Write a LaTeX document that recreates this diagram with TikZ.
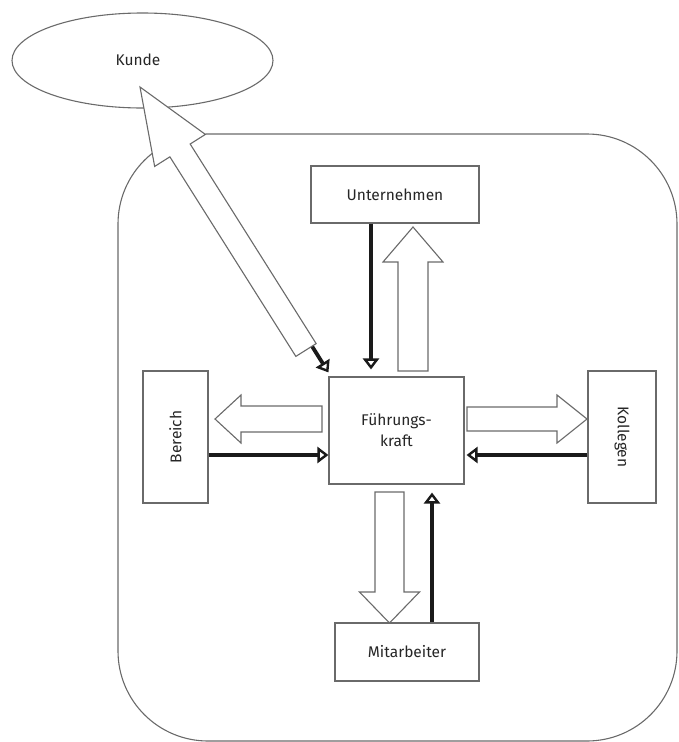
\documentclass[tikz,border=0pt]{standalone}
\usepackage{fontspec}
\setmainfont{Fira Sans}
\usetikzlibrary{calc,arrows.meta,shapes.geometric}
\definecolor{edge}{HTML}{6A6A6A}
\definecolor{ink}{HTML}{1A1A1A}
\definecolor{txt}{HTML}{262626}
\begin{document}
\begin{tikzpicture}[x=1pt,y=-1pt,
  every node/.style={text=txt, font=\fontsize{15.5}{21}\selectfont},
  box/.style={draw=edge, line width=1.1pt, fill=white, inner sep=0pt},
  thk/.style={draw=ink, line width=3.8pt, -{Triangle[open,length=11pt,width=16pt,line width=2.4pt]}},
  blk/.style={draw=edge, fill=white, line width=1.1pt, line join=miter},
  blockarrow/.style n args={3}{to path={
     ($(\tikztostart)!#1!90:(\tikztotarget)$)
  -- ($(\tikztotarget)!#3!(\tikztostart)!#1!90:(\tikztotarget)$)
  -- ($(\tikztotarget)!#3!(\tikztostart)!#2!90:(\tikztotarget)$)
  -- (\tikztotarget)
  -- ($(\tikztotarget)!#3!(\tikztostart)!#2!-90:(\tikztotarget)$)
  -- ($(\tikztotarget)!#3!(\tikztostart)!#1!-90:(\tikztotarget)$)
  -- ($(\tikztostart)!#1!-90:(\tikztotarget)$)
  -- cycle}}
]
\useasboundingbox (0,0) rectangle (678,742);

% frame
\node[draw=edge, line width=1.1pt, rounded corners=90pt, inner sep=0pt,
      minimum width=559pt, minimum height=607pt] (frame) at (397.5,437.5) {};

% nodes
\node[draw=edge, line width=1.1pt, ellipse, inner sep=0pt,
      minimum width=261pt, minimum height=95pt] (Kd) at (142.5,60.5) {};
\node (Kdt) at (138,59.5) {Kunde};
\node[box, minimum width=168pt, minimum height=57pt] (U) at (395,194.5) {Unternehmen};
\node[box, minimum width=135pt, minimum height=107pt, align=center] (FK) at (396.5,430.5) {Führungs-\\kraft};
\node[box, minimum width=65pt, minimum height=132pt] (B) at (175.5,437) {};
\node[rotate=90] (Bt) at (B) {Bereich};
\node[box, minimum width=68pt, minimum height=132pt] (K) at (622,437) {};
\node[rotate=-90] (Kt) at (K) {Kollegen};
\node[box, minimum width=144pt, minimum height=58pt] (M) at (407,652) {Mitarbeiter};

% coordinates for block arrows
\coordinate (upS) at (413,371);   \coordinate (upE) at (413,227);
\coordinate (lfS) at (322,419);   \coordinate (lfE) at (215,419);
\coordinate (rtS) at (467,419);   \coordinate (rtE) at (587,419);
\coordinate (dnS) at (389.5,492); \coordinate (dnE) at (389.5,623);
\coordinate (dgS) at (306,350);   \coordinate (dgE) at (140,87);
\coordinate (kin) at (164,110);

% thick arrows
\draw[thk] (kin) -- ([xshift=0pt,yshift=4pt]FK.north west);
\draw[thk] ([xshift=-24pt]U.south) -- ([xshift=-25.5pt,yshift=7pt]FK.north);
\draw[thk] ([yshift=-18pt]B.east) -- ([yshift=-24.5pt]FK.west);
\draw[thk] ([yshift=-18pt]K.west) -- ([xshift=2pt,yshift=-24.5pt]FK.east);
\draw[thk] ([xshift=25pt]M.north) -- ([xshift=35.5pt,yshift=-8pt]FK.south);

% block arrows
\draw[blk] (upS) to[blockarrow={15pt}{30pt}{35pt}] (upE);
\draw[blk] (lfS) to[blockarrow={13pt}{24pt}{26pt}] (lfE);
\draw[blk] (rtS) to[blockarrow={12pt}{24pt}{30pt}] (rtE);
\draw[blk] (dnS) to[blockarrow={14.5pt}{30pt}{31pt}] (dnE);
\draw[blk] (dgS) to[blockarrow={12pt}{30pt}{75pt}] (dgE);
\end{tikzpicture}
\end{document}
